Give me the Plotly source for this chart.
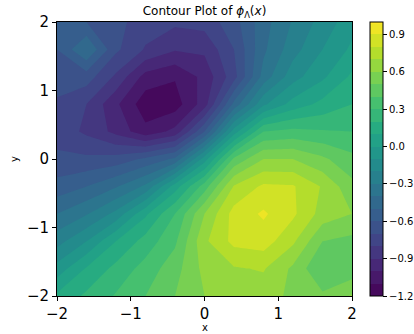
import plotly.graph_objects as go

# grid coordinates
x_vals = [-2.0, -1.6, -1.2, -0.8, -0.4, 0.0, 0.4, 0.8, 1.2, 1.6, 2.0]
y_vals = [-2.0, -1.6, -1.2, -0.8, -0.4, 0.0, 0.4, 0.8, 1.2, 1.6, 2.0]

# phi values, one row per y (ascending y)
row_ym20 = [0.12, 0.22, 0.31, 0.40, 0.50, 0.60, 0.65, 0.64, 0.58, 0.52, 0.61]
row_ym16 = [-0.06, 0.11, 0.23, 0.34, 0.46, 0.63, 0.69, 0.71, 0.58, 0.40, 0.43]
row_ym12 = [-0.24, -0.10, 0.10, 0.24, 0.38, 0.68, 0.83, 0.85, 0.72, 0.50, 0.47]
row_ym08 = [-0.40, -0.31, -0.17, 0.08, 0.30, 0.60, 0.84, 0.915, 0.82, 0.66, 0.60]
row_ym04 = [-0.56, -0.50, -0.41, -0.28, 0.05, 0.35, 0.71, 0.82, 0.81, 0.69, 0.53]
row_y00 = [-0.68, -0.68, -0.66, -0.58, -0.48, -0.05, 0.42, 0.60, 0.60, 0.52, 0.43]
row_y04 = [-0.74, -0.82, -0.93, -1.07, -0.97, -0.60, -0.05, 0.30, 0.33, 0.31, 0.30]
row_y08 = [-0.72, -0.80, -0.98, -1.16, -1.15, -0.95, -0.47, -0.12, 0.04, 0.13, 0.20]
row_y12 = [-0.64, -0.65, -0.82, -1.04, -1.09, -0.97, -0.74, -0.36, -0.14, -0.02, 0.12]
row_y16 = [-0.60, -0.40, -0.68, -0.81, -0.89, -0.88, -0.70, -0.42, -0.24, -0.10, 0.02]
row_y20 = [-0.58, -0.60, -0.67, -0.75, -0.78, -0.76, -0.64, -0.44, -0.29, -0.16, -0.04]

z_rows = [row_ym20, row_ym16, row_ym12, row_ym08, row_ym04, row_y00,
          row_y04, row_y08, row_y12, row_y16, row_y20]

level_start = -1.2
level_end = 1.0
level_step = 0.1

cbar_tickvals = [-1.2, -0.9, -0.6, -0.3, 0.0, 0.3, 0.6, 0.9]
cbar_ticktext = ["\u22121.2", "\u22120.9", "\u22120.6", "\u22120.3", "0.0", "0.3", "0.6", "0.9"]
axis_tickvals = [-2, -1, 0, 1, 2]
axis_ticktext = ["\u22122", "\u22121", "0", "1", "2"]

viridis = [
    [0.0, "#440154"], [0.1, "#482475"], [0.2, "#414487"], [0.3, "#355f8d"],
    [0.4, "#2a788e"], [0.5, "#21918c"], [0.6, "#22a884"], [0.7, "#44bf70"],
    [0.8, "#7ad151"], [0.9, "#bddf26"], [1.0, "#fde725"],
]

FONT = "DejaVu Sans"
W, H = 414, 334
L, R, T, B = 57, 62, 22, 38
plot_w = W - L - R
plot_h = H - T - B

fig = go.Figure(go.Contour(
    x=x_vals, y=y_vals, z=z_rows,
    colorscale=viridis, zmin=level_start, zmax=level_end,
    autocontour=False,
    contours=dict(start=level_start, end=level_end, size=level_step,
                  coloring="fill", showlines=False),
    line=dict(width=0, smoothing=0),
    hoverinfo="skip",
    colorbar=dict(
        thickness=13, len=1, lenmode="fraction", y=0.5, yanchor="middle",
        x=(370 - L) / plot_w, xanchor="left", xpad=0, ypad=0,
        outlinewidth=1, outlinecolor="black",
        ticks="outside", ticklen=4, tickwidth=1, tickcolor="black",
        tickvals=cbar_tickvals, ticktext=cbar_ticktext,
        tickfont=dict(family=FONT, size=10, color="black"),
    ),
))

axis_common = dict(
    range=[-2, 2], tickvals=axis_tickvals, ticktext=axis_ticktext,
    ticks="outside", ticklen=4, tickwidth=1, tickcolor="black",
    showline=True, linecolor="black", linewidth=1, mirror=True,
    showgrid=False, zeroline=False,
    tickfont=dict(family=FONT, size=15, color="black"),
)

fig.update_layout(
    width=W, height=H, autosize=False,
    margin=dict(l=L, r=R, t=T, b=B, pad=0, autoexpand=False),
    paper_bgcolor="white", plot_bgcolor="white",
    font=dict(family=FONT, color="black"),
    xaxis=axis_common,
    yaxis=axis_common,
    title=dict(
        text="Contour Plot of <i>\u03d5</i><sub>\u039b</sub>(<i>x</i>)",
        x=(204.5) / W, xanchor="center", y=1 - 11 / H, yanchor="middle",
        yref="container", xref="container",
        font=dict(family=FONT, size=12, color="black"),
    ),
    annotations=[
        dict(text="x", x=0.5, y=-(327 - 296) / plot_h, xref="paper", yref="paper",
             showarrow=False, xanchor="center", yanchor="middle",
             font=dict(family=FONT, size=10, color="black")),
        dict(text="y", x=(14 - L) / plot_w, y=0.5, xref="paper", yref="paper",
             showarrow=False, xanchor="center", yanchor="middle", textangle=-90,
             font=dict(family=FONT, size=10, color="black")),
    ],
)

fig.write_html(
    "out.html",
    config={"displayModeBar": False},
    post_script="document.body.style.margin='0';document.body.style.padding='0';",
)
